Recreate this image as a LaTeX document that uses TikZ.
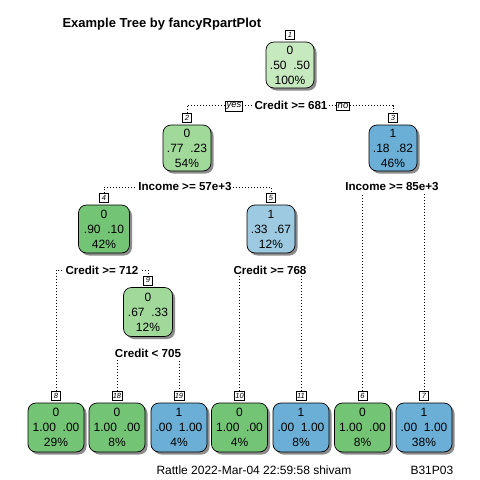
\documentclass[tikz,border=0pt]{standalone}
\usepackage{fontspec}
\setmainfont{Liberation Sans}
\usetikzlibrary{shadows}
\definecolor{gA}{HTML}{C7E9C0}
\definecolor{gB}{HTML}{A1D99B}
\definecolor{gC}{HTML}{74C476}
\definecolor{bB}{HTML}{9ECAE1}
\definecolor{bC}{HTML}{6BAED6}
\pgfdeclarelayer{bg}
\pgfsetlayers{bg,main}
\tikzset{
  box/.style={draw, line width=0.7pt, rounded corners=8pt, align=center, inner sep=0pt,
    font=\fontsize{12}{15}\selectfont,
    drop shadow={shadow xshift=2.5pt, shadow yshift=-2.5pt, fill=black!45, opacity=1}},
  inode/.style={box, minimum width=48pt, minimum height=46pt},
  lnode/.style={box, minimum width=56pt, minimum height=49pt},
  tagbox/.style={draw, fill=white, line width=0.5pt, font=\fontsize{7.5}{7.5}\selectfont\itshape,
    inner sep=1pt, minimum width=9pt, minimum height=9pt, anchor=south},
  splitlab/.style={fill=white, inner sep=1.5pt, font=\fontsize{11.6}{12}\selectfont\bfseries},
  yn/.style={draw, fill=white, line width=0.5pt, font=\fontsize{9.5}{9.5}\selectfont\itshape, inner sep=1.2pt},
  branch/.style={line width=0.8pt, dash pattern=on 0.8pt off 2.2pt},
}
\newcommand{\gapsp}{\hspace{0.556em}}
\begin{document}
\begin{tikzpicture}[x=1pt,y=-1pt]
\useasboundingbox (0,0) rectangle (480,480);
\begin{pgfonlayer}{bg}
\fill[white] (0,0) rectangle (480,480);
\end{pgfonlayer}
% title
\node[anchor=west, font=\fontsize{13}{13}\selectfont\bfseries] (title) at (59,24) {Example Tree by fancyRpartPlot};
% internal nodes
\node[inode, fill=gA] (n1) at (290,65) {0\\.50\gapsp.50\\100\%};
\node[inode, fill=gB] (n2) at (187,148) {0\\.77\gapsp.23\\54\%};
\node[inode, fill=bC] (n3) at (393,148) {1\\.18\gapsp.82\\46\%};
\node[inode, fill=gC, minimum height=48pt, minimum width=51pt] (n4) at (104,229) {0\\.90\gapsp.10\\42\%};
\node[inode, fill=bB, minimum height=48pt] (n5) at (271,229) {1\\.33\gapsp.67\\12\%};
\node[inode, fill=gB, minimum height=49pt, minimum width=49pt] (n9) at (148,312) {0\\.67\gapsp.33\\12\%};
% leaves
\node[lnode, fill=gC] (n8) at (56,427.5) {0\\1.00\gapsp.00\\29\%};
\node[lnode, fill=gC] (n18) at (117,427.5) {0\\1.00\gapsp.00\\8\%};
\node[lnode, fill=bC] (n19) at (179,427.5) {1\\.00\gapsp1.00\\4\%};
\node[lnode, fill=gC] (n10) at (239.5,427.5) {0\\1.00\gapsp.00\\4\%};
\node[lnode, fill=bC] (n11) at (301,427.5) {1\\.00\gapsp1.00\\8\%};
\node[lnode, fill=gC] (n6) at (362.5,427.5) {0\\1.00\gapsp.00\\8\%};
\node[lnode, fill=bC] (n7) at (424,427.5) {1\\.00\gapsp1.00\\38\%};
% tags
\foreach \n in {1,2,3,4,5,9,8,18,19,10,11,6,7}{
  \node[tagbox] (t\n) at ([yshift=2pt]n\n.north) {\n};
}
% split labels
\node[splitlab] (s1) at (291,105.5) {Credit >= 681};
\node[yn] (yes) at (234,106.4) {yes};
\node[yn] (no) at (343,106.4) {no};
\node[splitlab] (s2) at (185,187) {Income >= 57e+3};
\node[splitlab] (s3) at (392,187) {Income >= 85e+3};
\node[splitlab] (s4) at (102,270) {Credit >= 712};
\node[splitlab] (s5) at (270,270) {Credit >= 768};
\node[splitlab] (s9) at (148,353) {Credit < 705};
% branches
\begin{pgfonlayer}{bg}
\draw[branch] (t2.north) |- (s1.center) -| (t3.north);
\draw[branch] (t4.north) |- (s2.center) -| (t5.north);
\draw[branch] (t6.north) |- (s3.center) -| (t7.north);
\draw[branch] (t8.north) |- (s4.center) -| (t9.north);
\draw[branch] (t10.north) |- (s5.center) -| (t11.north);
\draw[branch] (t18.north) |- (s9.center) -| (t19.north);
\end{pgfonlayer}
% footer
\node[anchor=west, font=\fontsize{12}{12}\selectfont] (foot) at (153,470) {Rattle 2022-Mar-04 22:59:58 shivam};
\node[anchor=west, font=\fontsize{12}{12}\selectfont] (code) at (407,470) {B31P03};
\end{tikzpicture}
\end{document}
